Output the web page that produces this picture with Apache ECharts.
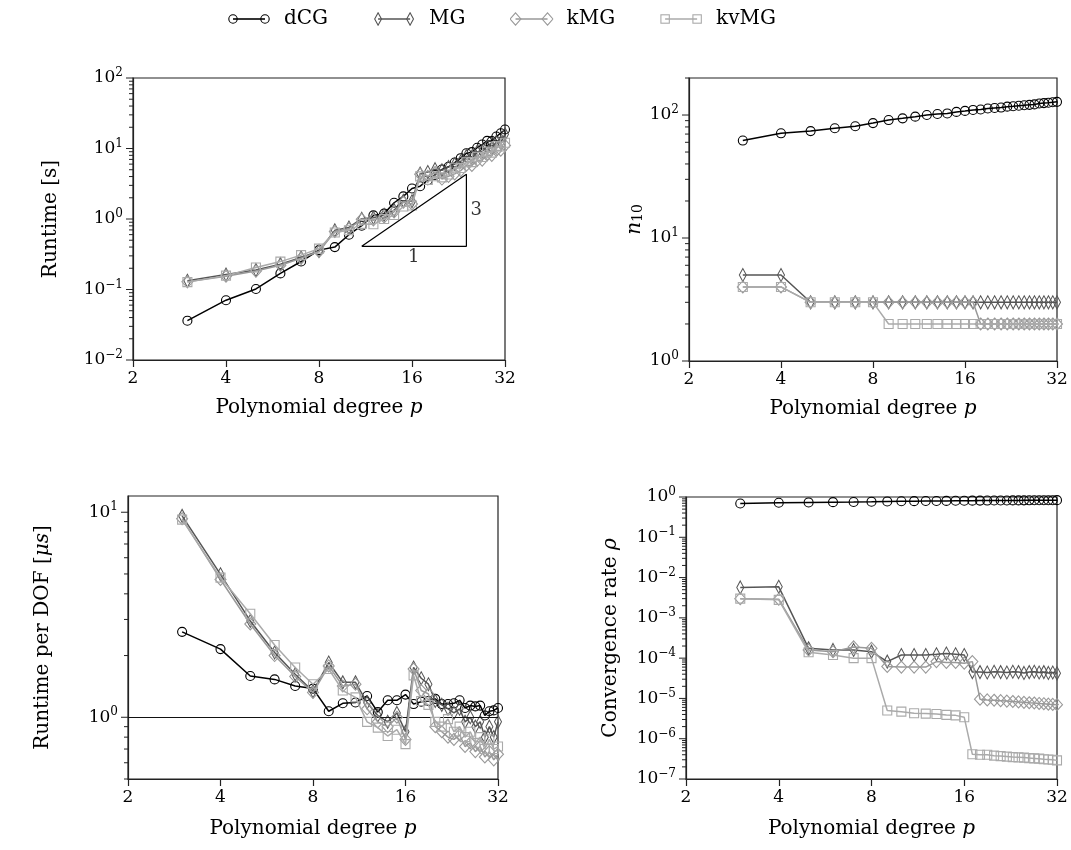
<!DOCTYPE html>
<html>
<head>
<meta charset="utf-8">
<script src="https://cdn.jsdelivr.net/npm/echarts@6/dist/echarts.min.js"></script>
<style>
  html, body { margin: 0; padding: 0; background: #fff; }
  #main { width: 1071px; height: 850px; }
</style>
</head>
<body>
<div id="main"></div>
<script>
// polynomial degrees
var degrees = [3, 4, 5, 6, 7, 8, 9, 10, 11, 12, 13, 14, 15, 16, 17, 18, 19, 20, 21, 22, 23, 24, 25, 26, 27, 28, 29, 30, 31, 32];
var names = ['dCG', 'MG', 'kMG', 'kvMG'];

// runtime [s]
var runDCG = [0.0361, 0.0705, 0.1018, 0.1692, 0.2494, 0.3618, 0.3994, 0.599, 0.804, 1.124, 1.192, 1.70, 2.091, 2.705, 2.918, 3.553, 4.214, 5.038, 5.50, 6.324, 7.289, 8.564, 8.88, 10.26, 11.39, 12.81, 12.74, 14.79, 16.47, 18.62];
var runMG = [0.1327, 0.1632, 0.1888, 0.2289, 0.2845, 0.3513, 0.6905, 0.7578, 1.0086, 1.044, 1.147, 1.335, 1.814, 1.783, 4.402, 4.628, 5.092, 4.915, 5.453, 5.997, 6.541, 7.786, 7.60, 9.00, 9.07, 10.68, 9.99, 12.44, 12.20, 15.94];
var runKMG = [0.1286, 0.154, 0.1824, 0.2212, 0.2775, 0.346, 0.6644, 0.727, 0.9881, 0.9732, 1.0686, 1.2644, 1.728, 1.6358, 4.3266, 4.0311, 4.5654, 3.6864, 4.0304, 4.3614, 4.859, 5.8039, 5.76, 6.7492, 6.8528, 8.0924, 7.9918, 9.4003, 9.4569, 11.073];
var runKVMG = [0.1272, 0.1573, 0.2048, 0.2488, 0.3073, 0.3801, 0.642, 0.6912, 0.8518, 0.8405, 1.0011, 1.138, 1.5034, 1.5519, 4.0247, 3.5832, 4.0386, 3.8912, 4.2675, 5.3427, 5.2951, 6.3701, 6.40, 7.6491, 7.5583, 8.9915, 8.741, 10.783, 10.677, 12.08];

// iterations n_10
var itDCG = [62, 71, 74, 78, 81, 86, 91, 94, 97, 100, 102, 103, 106, 108, 110, 111, 113, 114, 115, 117, 118, 119, 120, 121, 122, 124, 125, 126, 127, 128];
var itMG = [5, 5, 3, 3, 3, 3, 3, 3, 3, 3, 3, 3, 3, 3, 3, 3, 3, 3, 3, 3, 3, 3, 3, 3, 3, 3, 3, 3, 3, 3];
var itKMG = [4, 4, 3, 3, 3, 3, 3, 3, 3, 3, 3, 3, 3, 3, 3, 2, 2, 2, 2, 2, 2, 2, 2, 2, 2, 2, 2, 2, 2, 2];
var itKVMG = [4, 4, 3, 3, 3, 3, 2, 2, 2, 2, 2, 2, 2, 2, 2, 2, 2, 2, 2, 2, 2, 2, 2, 2, 2, 2, 2, 2, 2, 2];

// runtime per DOF [us]
var dofDCG = [2.61, 2.15, 1.59, 1.53, 1.42, 1.38, 1.07, 1.17, 1.18, 1.27, 1.06, 1.21, 1.21, 1.29, 1.16, 1.19, 1.20, 1.23, 1.16, 1.16, 1.17, 1.21, 1.11, 1.14, 1.13, 1.14, 1.02, 1.07, 1.08, 1.11];
var dofMG = [9.6, 4.98, 2.95, 2.07, 1.62, 1.34, 1.85, 1.48, 1.48, 1.18, 1.02, 0.95, 1.05, 0.85, 1.75, 1.55, 1.45, 1.2, 1.15, 1.1, 1.05, 1.1, 0.95, 1.0, 0.9, 0.95, 0.8, 0.9, 0.8, 0.95];
var dofKMG = [9.3, 4.7, 2.85, 2.0, 1.58, 1.32, 1.78, 1.42, 1.45, 1.1, 0.95, 0.9, 1.0, 0.78, 1.72, 1.35, 1.3, 0.9, 0.85, 0.8, 0.78, 0.82, 0.72, 0.75, 0.68, 0.72, 0.64, 0.68, 0.62, 0.66];
var dofKVMG = [9.2, 4.8, 3.2, 2.25, 1.75, 1.45, 1.72, 1.35, 1.25, 0.95, 0.89, 0.81, 0.87, 0.74, 1.6, 1.2, 1.15, 0.95, 0.9, 0.98, 0.85, 0.9, 0.8, 0.85, 0.75, 0.8, 0.7, 0.78, 0.7, 0.72];

// convergence rate rho
var rhoDCG = [0.69, 0.72, 0.733, 0.745, 0.753, 0.765, 0.776, 0.783, 0.789, 0.794, 0.798, 0.80, 0.805, 0.808, 0.811, 0.813, 0.816, 0.817, 0.819, 0.821, 0.823, 0.824, 0.826, 0.827, 0.829, 0.83, 0.832, 0.833, 0.834, 0.835];
var rhoMG = [5.7e-3, 5.9e-3, 1.75e-4, 1.6e-4, 1.6e-4, 1.45e-4, 8.2e-5, 1.2e-4, 1.2e-4, 1.2e-4, 1.25e-4, 1.3e-4, 1.25e-4, 1.2e-4, 4.5e-5, 4.5e-5, 4.4e-5, 4.6e-5, 4.5e-5, 4.4e-5, 4.6e-5, 4.5e-5, 4.3e-5, 4.5e-5, 4.6e-5, 4.4e-5, 4.5e-5, 4.3e-5, 4.4e-5, 4.2e-5];
var rhoKMG = [3.0e-3, 2.9e-3, 1.6e-4, 1.45e-4, 1.9e-4, 1.75e-4, 6.2e-5, 6.0e-5, 6.0e-5, 6.0e-5, 8.2e-5, 7.8e-5, 7.8e-5, 7.5e-5, 8.2e-5, 9.6e-6, 9.2e-6, 9.0e-6, 8.8e-6, 8.6e-6, 8.4e-6, 8.2e-6, 8.0e-6, 7.8e-6, 7.7e-6, 7.5e-6, 7.4e-6, 7.2e-6, 7.1e-6, 7.0e-6];
var rhoKVMG = [3.0e-3, 2.8e-3, 1.4e-4, 1.2e-4, 1.0e-4, 1.0e-4, 5.0e-6, 4.7e-6, 4.3e-6, 4.2e-6, 4.1e-6, 3.9e-6, 3.8e-6, 3.4e-6, 4.1e-7, 4.0e-7, 4.0e-7, 3.8e-7, 3.7e-7, 3.6e-7, 3.5e-7, 3.45e-7, 3.4e-7, 3.3e-7, 3.25e-7, 3.2e-7, 3.1e-7, 3.05e-7, 3.0e-7, 2.9e-7];

// slope triangle (runtime panel)
var triX = [11, 24, 24, 11];
var triY = [0.41, 0.41, 4.3, 0.41];

var serif = 'DejaVu Serif';
var colors = ['#000000', '#555555', '#999999', '#aaaaaa'];
var symbols = ['circle', 'diamond', 'diamond', 'rect'];
var symSizes = [9, [7, 13], [11, 12], [9, 9]];

// legend icons: a line with a marker at each end
function markerSvg(s, cx, c) {
    if (s === 0) return "<circle cx='" + cx + "' cy='7' r='4.2' fill='none' stroke='" + c + "' stroke-width='1.1'/>";
    if (s === 3) return "<rect x='" + (cx - 4.2) + "' y='2.8' width='8.4' height='8.4' fill='none' stroke='" + c + "' stroke-width='1.1'/>";
    var hw = s === 1 ? 3.4 : 5.4;
    return "<polygon points='" + cx + ",0.8 " + (cx + hw) + ",7 " + cx + ",13.2 " + (cx - hw) + ",7' fill='none' stroke='" + c + "' stroke-width='1.1'/>";
}
function legendIcon(s) {
    var c = colors[s];
    var svg = "<svg xmlns='http://www.w3.org/2000/svg' width='44' height='14'>" +
        "<line x1='6' y1='7' x2='38' y2='7' stroke='" + c + "' stroke-width='1.6'/>" +
        markerSvg(s, 6, c) + markerSvg(s, 38, c) + "</svg>";
    return 'image://data:image/svg+xml;charset=utf-8,' + encodeURIComponent(svg);
}

var chart = echarts.init(document.getElementById('main'));

var grids = [
    { left: 133, top: 78, width: 372, height: 282 },
    { left: 689, top: 78, width: 368, height: 283 },
    { left: 128, top: 496, width: 370, height: 283 },
    { left: 686, top: 497, width: 371, height: 282 }
];
var yRanges = [[0.01, 100], [1, 200], [0.5, 12], [1e-7, 1]];
var yNames = [
    '{a|Runtime [s]}',
    '{i|n}{sub|10}',
    '{a|Runtime per DOF [}{i|μs}{a|]}',
    '{a|Convergence rate }{i|ρ}'
];
var yGaps = [72, 31, 75, 65];
var xGaps = [38, 38, 40, 40];
var panels = [
    [runDCG, runMG, runKMG, runKVMG],
    [itDCG, itMG, itKMG, itKVMG],
    [dofDCG, dofMG, dofKMG, dofKVMG],
    [rhoDCG, rhoMG, rhoKMG, rhoKVMG]
];

function supLabel(v) {
    var e = Math.log10(v);
    var r = Math.round(e);
    if (Math.abs(e - r) > 1e-6) return '';
    return '{b|10}{s|' + (r < 0 ? '\u2212' + (-r) : r) + '}';
}

// ticks on the log y axes (major at powers of ten, minor in between)
function logTicks(min, max) {
    var out = [];
    for (var k = Math.floor(Math.log10(min)); k <= Math.ceil(Math.log10(max)); k++) {
        for (var m = 1; m <= 9; m++) {
            var v = m * Math.pow(10, k);
            if (v >= min * 0.999 && v <= max * 1.001) out.push([2, v, m === 1 ? 7 : 4]);
        }
    }
    return out;
}

var xAxes = [], yAxes = [], series = [];
grids.forEach(function (g, i) {
    xAxes.push({
        gridIndex: i, type: 'log', logBase: 2, min: 2, max: 32,
        name: '{a|Polynomial degree }{i|p}', nameLocation: 'middle', nameGap: xGaps[i],
        nameTextStyle: {
            rich: {
                a: { fontFamily: serif, fontSize: 20, color: '#000' },
                i: { fontFamily: serif, fontSize: 20, fontStyle: 'italic', color: '#000' }
            }
        },
        axisLine: { lineStyle: { color: '#222', width: 1.2 } },
        axisTick: { inside: false, length: 7, lineStyle: { color: '#222', width: 1.2 } },
        minorTick: { show: false },
        splitLine: { show: false },
        axisLabel: {
            fontFamily: serif, fontSize: 17, color: '#000', margin: 10,
            formatter: function (v) { return String(Math.round(v)); }
        }
    });
    yAxes.push({
        gridIndex: i, type: 'log', logBase: 10, min: yRanges[i][0], max: yRanges[i][1],
        name: yNames[i], nameLocation: 'middle', nameGap: yGaps[i], nameRotate: 90,
        nameTextStyle: {
            rich: {
                a: { fontFamily: serif, fontSize: 20, color: '#000' },
                i: { fontFamily: serif, fontSize: 20, fontStyle: 'italic', color: '#000' },
                sub: { fontFamily: serif, fontSize: 14, color: '#000', padding: [8, 0, 0, 0] }
            }
        },
        axisLine: { lineStyle: { color: '#222', width: 1.2 } },
        axisTick: { show: false },
        splitLine: { show: false },
        axisLabel: {
            margin: 10, formatter: supLabel,
            rich: {
                b: { fontFamily: serif, fontSize: 17, color: '#000' },
                s: { fontFamily: serif, fontSize: 12, color: '#000', padding: [0, 0, 10, 0] }
            }
        }
    });
    panels[i].forEach(function (vals, s) {
        var c = colors[s];
        var ser = {
            name: names[s], type: 'line', xAxisIndex: i, yAxisIndex: i,
            data: degrees.map(function (p, k) { return [p, vals[k]]; }),
            symbol: symbols[s], symbolSize: symSizes[s], showAllSymbol: true,
            lineStyle: { color: c, width: 1.5 },
            itemStyle: { color: 'rgba(255,255,255,0)', borderColor: c, borderWidth: 1.1 },
            emphasis: { disabled: true },
            z: 3 + s
        };
        if (i === 2 && s === 0) {
            ser.markLine = {
                silent: true, symbol: 'none', label: { show: false },
                lineStyle: { color: '#111', type: 'solid', width: 1.2 },
                data: [{ yAxis: 1 }]
            };
        }
        series.push(ser);
    });
    series.push({
        type: 'custom', xAxisIndex: i, yAxisIndex: i, silent: true, clip: false,
        data: logTicks(yRanges[i][0], yRanges[i][1]),
        encode: { x: 0, y: 1 },
        renderItem: function (params, api) {
            var cs = params.coordSys;
            var y = api.coord([api.value(0), api.value(1)])[1];
            var len = api.value(2);
            return {
                type: 'line',
                shape: { x1: cs.x - len, y1: y, x2: cs.x, y2: y },
                style: { stroke: '#222', lineWidth: 1 }
            };
        }
    });
});

// slope triangle and its labels
series.push({
    type: 'line', xAxisIndex: 0, yAxisIndex: 0, silent: true,
    data: triX.map(function (x, k) { return [x, triY[k]]; }),
    symbol: 'none', lineStyle: { color: '#000', width: 1.2 }, z: 10
});
series.push({
    type: 'scatter', xAxisIndex: 0, yAxisIndex: 0, silent: true,
    symbolSize: 0,
    data: [
        { value: [16.2, 0.41], label: { show: true, position: 'bottom', distance: 2, formatter: '1' } },
        { value: [24, 1.33], label: { show: true, position: 'right', distance: 4, formatter: '3' } }
    ],
    label: { fontFamily: serif, fontSize: 18, color: '#000' }
});

chart.setOption({
    animation: false,
    backgroundColor: '#fff',
    legend: {
        data: names.map(function (n, s) { return { name: n, icon: legendIcon(s) }; }),
        top: 4, left: 222,
        itemWidth: 44, itemHeight: 14, itemGap: 44,
        textStyle: { fontFamily: serif, fontSize: 20, color: '#000', padding: [0, 0, 0, 8] },
        selectedMode: false
    },
    grid: grids.map(function (g) {
        return {
            left: g.left, top: g.top, width: g.width, height: g.height,
            show: true, borderColor: '#222', borderWidth: 1.2, backgroundColor: 'transparent'
        };
    }),
    xAxis: xAxes,
    yAxis: yAxes,
    series: series
});
</script>
</body>
</html>
